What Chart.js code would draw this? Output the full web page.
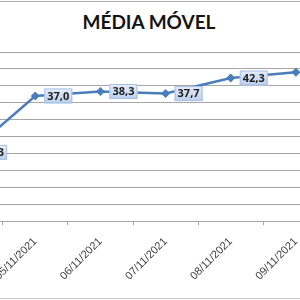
<!DOCTYPE html>
<html>
<head>
<meta charset="utf-8">
<script src="https://cdn.jsdelivr.net/npm/chart.js@4.4.0/dist/chart.umd.min.js"></script>
<style>
    body { margin: 0; background: #fff; }
    #frame { position: relative; width: 300px; height: 300px; overflow: hidden; background: #fff; }
    #title { position: absolute; top: 10px; left: 0; width: 298px; text-align: center;
             font: bold 19px Lato, 'Open Sans', sans-serif; color: #141414; }
    #topline { position: absolute; top: 1px; left: 0; width: 300px; height: 1px; background: #b0b0b0; }
    #bottomline { position: absolute; top: 298px; left: 0; width: 300px; height: 1px; background: #c4c4c4; }
    #box { position: absolute; top: 0; left: -67px; width: 400px; height: 300px; }
</style>
</head>
<body>
<div id="frame">
    <div id="topline"></div>
    <div id="title">MÉDIA MÓVEL</div>
    <div id="box"><canvas id="chart"></canvas></div>
    <div id="bottomline"></div>
</div>
<script>
const dias = ['04/11/2021', '05/11/2021', '06/11/2021', '07/11/2021', '08/11/2021', '09/11/2021'];
const mediaMovel = [20.3, 37.0, 38.3, 37.7, 42.3, 44.0];
const yTicks = [0, 5, 10, 15, 20, 25, 30, 35, 40, 45, 50];

const blue = '#4a7ebb';

// rótulos de dados estilo Excel (caixa azul clara à direita do ponto)
const labelBoxes = {
    id: 'labelBoxes',
    afterDatasetsDraw(chart) {
        const ctx = chart.ctx;
        const meta = chart.getDatasetMeta(0);
        ctx.save();
        ctx.font = 'bold 11px "Open Sans", sans-serif';
        ctx.textAlign = 'center';
        ctx.textBaseline = 'middle';
        meta.data.forEach((pt, i) => {
            const txt = mediaMovel[i].toFixed(1).replace('.', ',');
            const w = ctx.measureText(txt).width + 6;
            const h = 15;
            const x = pt.x + 9;
            const y = pt.y - h / 2;
            const g = ctx.createLinearGradient(0, y, 0, y + h);
            g.addColorStop(0, '#e6eefa');
            g.addColorStop(1, '#b9cdea');
            ctx.fillStyle = g;
            ctx.fillRect(x, y, w, h);
            ctx.strokeStyle = '#a9c1e6';
            ctx.lineWidth = 1;
            ctx.strokeRect(x + 0.5, y + 0.5, w - 1, h - 1);
            ctx.fillStyle = '#1e1e1e';
            ctx.fillText(txt, x + w / 2, pt.y + 0.5);
        });
        ctx.restore();
    }
};

new Chart(document.getElementById('chart').getContext('2d'), {
    type: 'line',
    data: {
        labels: dias,
        datasets: [{
            data: mediaMovel,
            borderColor: blue,
            backgroundColor: blue,
            borderWidth: 2.5,
            pointStyle: 'rectRot',
            pointRadius: 4.5,
            pointBorderWidth: 0,
            tension: 0
        }]
    },
    options: {
        responsive: true,
        maintainAspectRatio: false,
        animation: false,
        layout: { padding: { top: 52, left: 0, right: 0, bottom: 0 } },
        plugins: {
            legend: { display: false },
            tooltip: { enabled: false }
        },
        scales: {
            x: {
                offset: true,
                grid: { offset: true, drawOnChartArea: false, drawTicks: true, tickLength: 4, color: '#a6a6a6' },
                border: { color: '#a6a6a6' },
                ticks: {
                    minRotation: 45,
                    maxRotation: 45,
                    padding: 10,
                    color: '#404040',
                    font: { family: 'Liberation Sans', size: 11 }
                },
                afterFit: s => { s.height = 79; s.paddingLeft = 0; s.paddingRight = 0; }
            },
            y: {
                min: 0,
                max: 50,
                afterBuildTicks: s => { s.ticks = yTicks.map(v => ({ value: v })); },
                grid: { color: '#a6a6a6', drawTicks: false },
                border: { display: false },
                ticks: { display: false },
                afterFit: s => { s.width = 0; }
            }
        }
    },
    plugins: [labelBoxes]
});
</script>
</body>
</html>
